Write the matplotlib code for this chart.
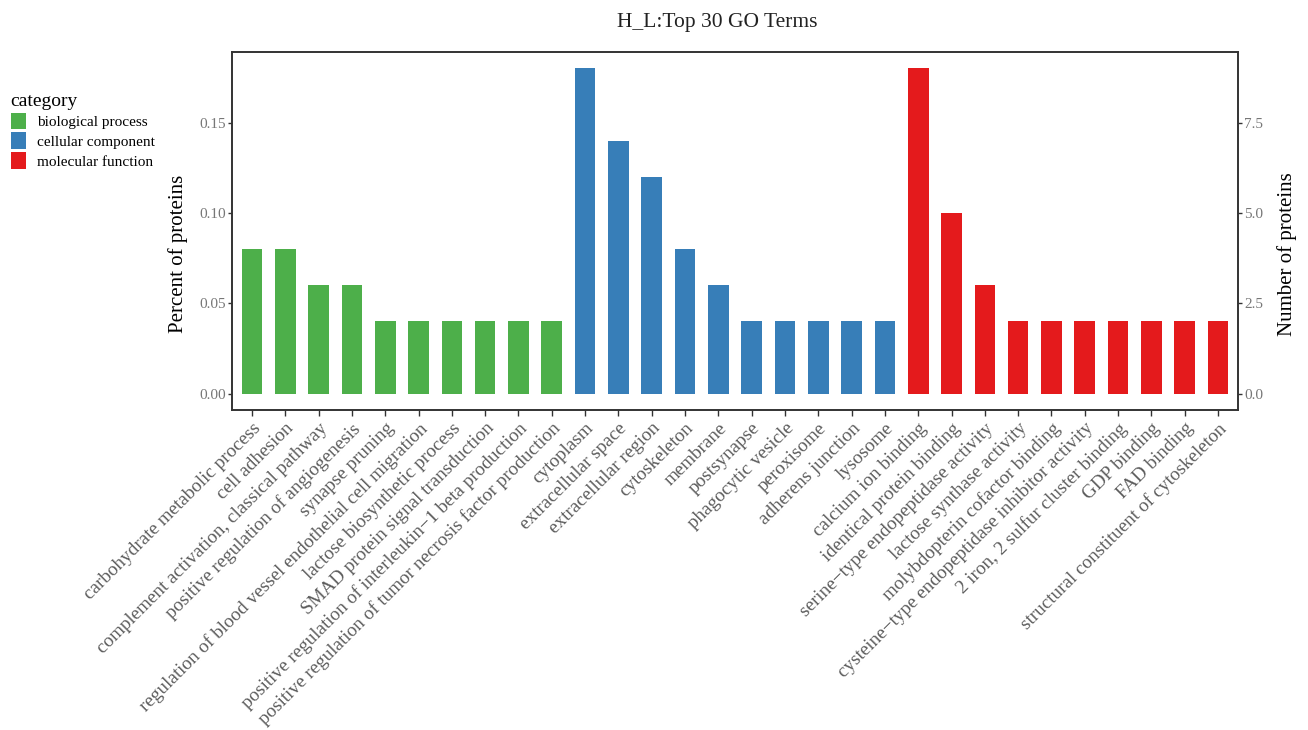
import matplotlib
matplotlib.use("Agg")
import matplotlib.pyplot as plt
from matplotlib.patches import Patch

plt.rcParams['font.family'] = ['Liberation Serif', 'DejaVu Serif']

categories = ["biological process", "cellular component", "molecular function"]
cat_colors = ["#4daf4a", "#377eb8", "#e41a1c"]

bp_terms = [
    "carbohydrate metabolic process",
    "cell adhesion",
    "complement activation, classical pathway",
    "positive regulation of angiogenesis",
    "synapse pruning",
    "regulation of blood vessel endothelial cell migration",
    "lactose biosynthetic process",
    "SMAD protein signal transduction",
    "positive regulation of interleukin\u22121 beta production",
    "positive regulation of tumor necrosis factor production",
]
bp_counts = [4, 4, 3, 3, 2, 2, 2, 2, 2, 2]

cc_terms = [
    "cytoplasm",
    "extracellular space",
    "extracellular region",
    "cytoskeleton",
    "membrane",
    "postsynapse",
    "phagocytic vesicle",
    "peroxisome",
    "adherens junction",
    "lysosome",
]
cc_counts = [9, 7, 6, 4, 3, 2, 2, 2, 2, 2]

mf_terms = [
    "calcium ion binding",
    "identical protein binding",
    "serine\u2212type endopeptidase activity",
    "lactose synthase activity",
    "molybdopterin cofactor binding",
    "cysteine\u2212type endopeptidase inhibitor activity",
    "2 iron, 2 sulfur cluster binding",
    "GDP binding",
    "FAD binding",
    "structural constituent of cytoskeleton",
]
mf_counts = [9, 5, 3, 2, 2, 2, 2, 2, 2, 2]

total_proteins = 50

terms = bp_terms + cc_terms + mf_terms
counts = bp_counts + cc_counts + mf_counts
colors = ([cat_colors[0]] * len(bp_terms) + [cat_colors[1]] * len(cc_terms)
          + [cat_colors[2]] * len(mf_terms))
percents = [c / total_proteins for c in counts]

fig = plt.figure(figsize=(13.08, 7.30), dpi=100)
W, H = 1308, 730
ax = fig.add_axes([232 / W, 1 - 410 / H, (1238 - 232) / W, (410 - 52) / H])
aw, ah = 1238 - 232, 410 - 52

x = list(range(len(terms)))
ax.bar(x, percents, width=0.62, color=colors, zorder=2)

pmax = max(percents)
ax.set_xlim(-0.6, len(terms) - 0.4)
ax.set_ylim(-0.05 * pmax, 1.05 * pmax)
ax.set_yticks([0.0, 0.05, 0.10, 0.15])
ax.set_yticklabels(["0.00", "0.05", "0.10", "0.15"])
ax.set_xticks(x)
ax.set_xticklabels(terms, rotation=45, ha='right', va='top',
                   rotation_mode='anchor', fontsize=13.8)
for lbl, c in zip(ax.get_xticklabels(), colors):
    lbl.set_color(c)
    lbl.set_alpha(0.8)

ax.tick_params(axis='y', labelsize=11, colors='#333333', labelcolor='#777777',
               length=3, width=1, pad=1.5)
ax.tick_params(axis='x', length=4, width=1, colors='#333333', pad=3)
for sp in ax.spines.values():
    sp.set_color('#333333')
    sp.set_linewidth(1.2)
ax.set_ylabel("Percent of proteins", fontsize=15)
ax.yaxis.set_label_coords((188 - 232) / aw, (410 - 254) / ah)

ax2 = ax.twinx()
ax2.set_ylim(ax.get_ylim()[0] * total_proteins, ax.get_ylim()[1] * total_proteins)
ax2.set_yticks([0.0, 2.5, 5.0, 7.5])
ax2.set_yticklabels(["0.0", "2.5", "5.0", "7.5"])
ax2.tick_params(axis='y', labelsize=11, colors='#333333', labelcolor='#777777',
                length=3, width=1, pad=1.5)
for sp in ax2.spines.values():
    sp.set_color('#333333')
    sp.set_linewidth(1.2)
ax2.set_ylabel("Number of proteins", fontsize=15, rotation=90)
ax2.yaxis.set_label_coords((1277 - 232) / aw, (410 - 254) / ah)

fig.text(717 / W, 1 - 23 / H, "H_L:Top 30 GO Terms", ha='center', va='center',
         fontsize=15.5, color='#222222')

handles = [Patch(facecolor=c, edgecolor='none') for c in cat_colors]
fig.legend(handles, categories, loc='upper left', bbox_to_anchor=(0.0, 1 - 82 / H),
           frameon=False, title="category", title_fontsize=14, fontsize=11,
           handlelength=1.0, handleheight=1.3, handletextpad=0.7,
           labelspacing=0.2, borderaxespad=0.3, alignment='left')

fig.savefig("out.png", dpi=100)
